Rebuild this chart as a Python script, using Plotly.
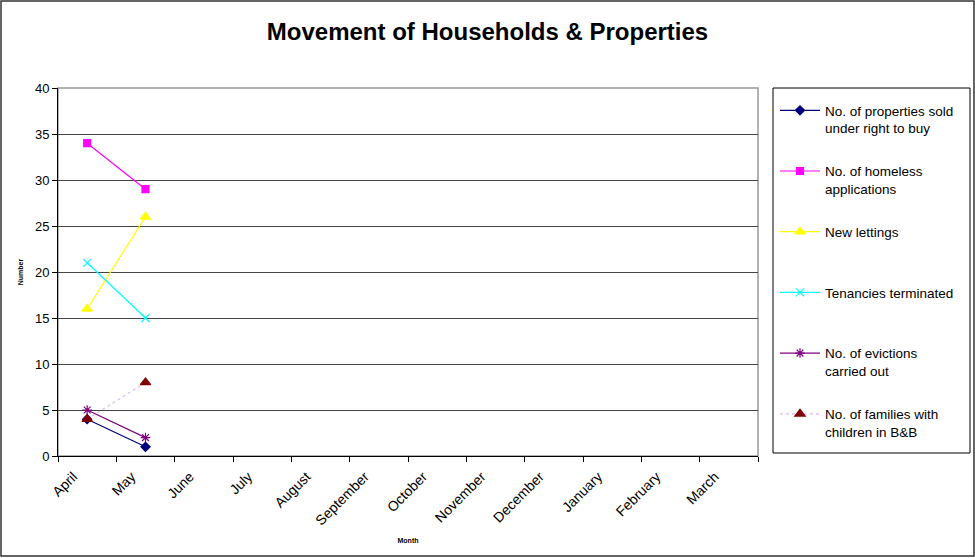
import plotly.graph_objects as go

months = ["April", "May", "June", "July", "August", "September", "October",
          "November", "December", "January", "February", "March"]

rtb_sold = [4, 1] + [None] * 10
homeless_apps = [34, 29] + [None] * 10
new_lettings = [16, 26] + [None] * 10
tenancies_terminated = [21, 15] + [None] * 10
evictions = [5, 2] + [None] * 10
families_bb = [4, 8] + [None] * 10

series_names = [
    "No. of properties sold<br>under right to buy",
    "No. of homeless<br>applications",
    "New lettings<br> ",
    "Tenancies terminated<br> ",
    "No. of evictions<br>carried out",
    "No. of families with<br>children in B&B",
]

FONT = "Liberation Sans, Arial, sans-serif"

# plot area in pixels
W, H = 975, 558
L, R, T, B = 58, 758, 88, 456
pw, ph = R - L, B - T

def px(x):
    return (x - L) / pw

def py(y):
    return (B - y) / ph

fig = go.Figure()

styles = [
    dict(values=rtb_sold, color="#000080", symbol="diamond", size=7, dash="solid", mcolor="#000080"),
    dict(values=homeless_apps, color="#FF00FF", symbol="square", size=7, dash="solid", mcolor="#FF00FF"),
    dict(values=new_lettings, color="#FFFF00", symbol="triangle-up", size=9, dash="solid", mcolor="#FFFF00"),
    dict(values=tenancies_terminated, color="#00FFFF", symbol="x-thin-open", size=8, dash="solid", mcolor="#00FFFF"),
    dict(values=evictions, color="#800080", symbol="asterisk-open", size=8, dash="solid", mcolor="#800080"),
    dict(values=families_bb, color="#D9B8F5", symbol="triangle-up", size=9, dash="dot", mcolor="#800000"),
]

for i, (name, st) in enumerate(zip(series_names, styles)):
    fig.add_trace(go.Scatter(
        x=months, y=st["values"], name=name, mode="lines+markers",
        legendgroup=f"g{i}",
        line=dict(color=st["color"], width=1.2, dash=st["dash"]),
        marker=dict(symbol=st["symbol"], size=st["size"], color=st["mcolor"],
                    line=dict(color=st["mcolor"], width=1.2)),
        connectgaps=False,
    ))

shapes = [
    # outer chart border
    dict(type="rect", xref="paper", yref="paper",
         x0=px(1), x1=px(974), y0=py(556), y1=py(1),
         line=dict(color="#333333", width=1.5), layer="below"),
    # plot area border (top/right gray)
    dict(type="rect", xref="paper", yref="paper",
         x0=0, x1=1, y0=0, y1=1,
         line=dict(color="#999999", width=1.5), layer="below"),
    # legend box
    dict(type="rect", xref="paper", yref="paper",
         x0=px(773), x1=px(970), y0=py(453), y1=py(88),
         line=dict(color="#000000", width=1), layer="below"),
]

fig.update_layout(
    width=W, height=H,
    margin=dict(l=L, r=W - R, t=T, b=H - B),
    paper_bgcolor="white", plot_bgcolor="white",
    font=dict(family=FONT, color="#000000", size=12),
    title=dict(text="<b>Movement of Households & Properties</b>",
               font=dict(family=FONT, size=24, color="#000000"),
               x=0.5, xref="container", xanchor="center",
               y=1 - 32 / H, yref="container", yanchor="middle"),
    showlegend=True,
    legend=dict(x=px(775), y=py(95), xanchor="left", yanchor="top",
                font=dict(family=FONT, size=13.5, color="#000000"),
                bgcolor="rgba(0,0,0,0)", borderwidth=0,
                tracegroupgap=22.6, valign="top", itemwidth=40),
    shapes=shapes,
    xaxis=dict(
        type="category", categoryorder="array", categoryarray=months,
        range=[-0.5, 11.5], tickangle=-45, tickson="boundaries",
        showline=True, linecolor="#000000", linewidth=1,
        ticks="outside", ticklen=5, tickcolor="#000000",
        showgrid=False, zeroline=False,
        ticklabelshift=-14, ticklabelstandoff=6,
        tickfont=dict(family=FONT, size=14),
        title=dict(text="<b>Month</b>", font=dict(family=FONT, size=7), standoff=10),
    ),
    yaxis=dict(
        range=[0, 40], dtick=5, tick0=0,
        showline=True, linecolor="#000000", linewidth=1,
        ticks="outside", ticklen=5, tickcolor="#000000",
        showgrid=True, gridcolor="#444444", gridwidth=1,
        zeroline=False,
        tickfont=dict(family=FONT, size=13),
        title=dict(text="<b>Number</b>", font=dict(family=FONT, size=7), standoff=10),
    ),
)

fig.write_html("out.html")
